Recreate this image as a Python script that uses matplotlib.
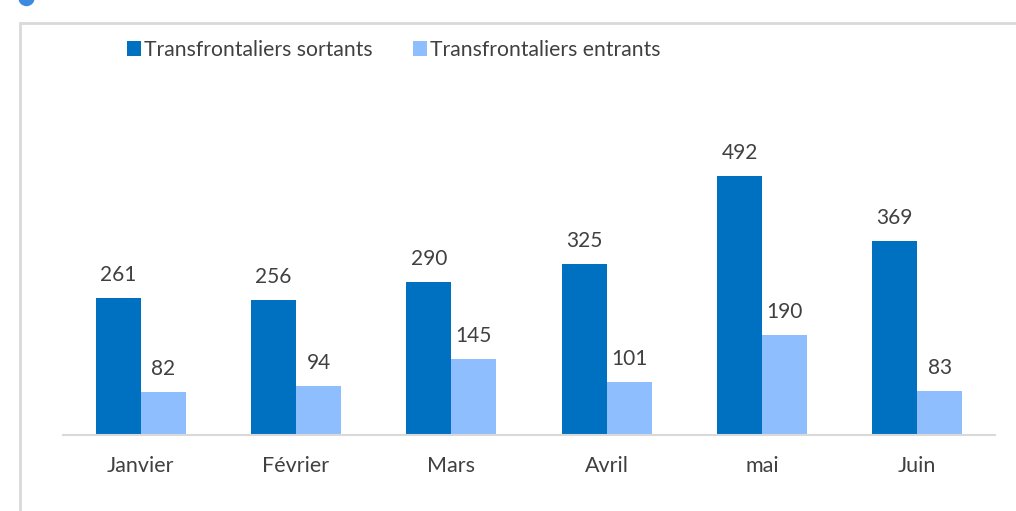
import matplotlib.pyplot as plt
import numpy as np
from matplotlib.patches import Rectangle, Circle

months = ["Janvier", "Février", "Mars", "Avril", "mai", "Juin"]
sortants = [261, 256, 290, 325, 492, 369]
entrants = [82, 94, 145, 101, 190, 83]

DARK = "#0070C0"
LIGHT = "#8FBEFF"
TXT = "#404040"

plt.rcParams["font.family"] = ["Lato", "DejaVu Sans"]

W, H = 1016, 511
fig = plt.figure(figsize=(W / 100, H / 100), dpi=100)


def px(x0, y0, x1, y1):
    # pixel box (top-left origin) -> figure fraction rect
    return [x0 / W, 1 - y1 / H, (x1 - x0) / W, (y1 - y0) / H]


# frame around chart and blue dot at top-left
fig.patches.append(Rectangle((20 / W, -0.1), 1.1, 1 - 23 / H + 0.1,
                             transform=fig.transFigure, fill=False,
                             edgecolor="#D9D9D9", lw=2))
fig.patches.append(Circle((0.265, H / 100 + 0.02), 0.075,
                          transform=fig.dpi_scale_trans,
                          color="#3D8BE0", clip_on=False))

ax = fig.add_axes(px(63, 60, 995, 435))
x = np.arange(len(months))
w = 0.29
b1 = ax.bar(x - w / 2, sortants, w, color=DARK, label="Transfrontaliers sortants")
b2 = ax.bar(x + w / 2, entrants, w, color=LIGHT, label="Transfrontaliers entrants")

for bars, vals in ((b1, sortants), (b2, entrants)):
    for r, v in zip(bars, vals):
        ax.annotate(str(v), (r.get_x() + r.get_width() / 2, v),
                    xytext=(0, 13), textcoords="offset pixels",
                    ha="center", va="bottom", fontsize=15, color=TXT)

ax.set_xlim(-0.5, len(months) - 0.5)
ax.set_ylim(0, 375 / (259 / 492))
ax.set_xticks(x)
ax.set_xticklabels(months, fontsize=15.5, color=TXT)
ax.tick_params(axis="x", length=0, pad=15)
ax.set_yticks([])
for s in ("top", "right", "left"):
    ax.spines[s].set_visible(False)
ax.spines["bottom"].set_color("#D9D9D9")
ax.spines["bottom"].set_linewidth(1.5)

fig.legend(loc="center left", bbox_to_anchor=(116 / W, 1 - 50 / H), ncol=2,
           frameon=False, fontsize=15.2, labelcolor=TXT, handlelength=0.7,
           handleheight=0.7, handletextpad=0.12, columnspacing=1.9,
           borderpad=0)

fig.savefig("out.png", dpi=100)
